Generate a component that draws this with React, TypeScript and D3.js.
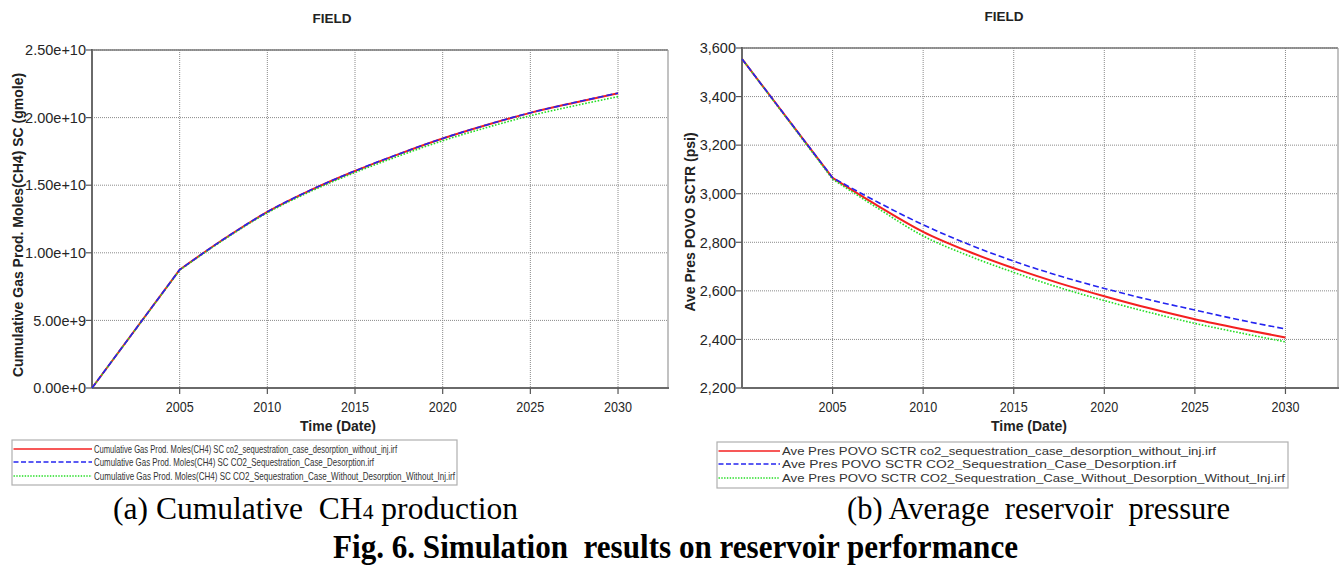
import React from "react";
import * as d3 from "d3";

// Simulation output, sampled every 2.5 years
const years = [2000, 2005, 2007.5, 2010, 2012.5, 2015, 2017.5, 2020, 2022.5, 2025, 2027.5, 2030];

// Cumulative CH4 production (gmole)
const gasDesorptionNoInj = [0, 0.875e10, 1.1e10, 1.302e10, 1.465e10, 1.605e10, 1.73e10, 1.845e10, 1.945e10, 2.035e10, 2.11e10, 2.18e10];
const gasDesorption = [0, 0.875e10, 1.1e10, 1.303e10, 1.466e10, 1.606e10, 1.731e10, 1.846e10, 1.946e10, 2.036e10, 2.111e10, 2.181e10];
const gasNoDesorptionNoInj = [0, 0.872e10, 1.095e10, 1.296e10, 1.456e10, 1.594e10, 1.716e10, 1.829e10, 1.926e10, 2.014e10, 2.087e10, 2.155e10];

// Average reservoir pressure (psi)
const presDesorptionNoInj = [3555, 3065, 2950, 2843, 2762, 2693, 2632, 2578, 2528, 2483, 2444, 2408];
const presDesorption = [3555, 3066, 2965, 2872, 2792, 2722, 2662, 2610, 2563, 2521, 2480, 2443];
const presNoDesorptionNoInj = [3555, 3060, 2940, 2826, 2745, 2676, 2614, 2560, 2511, 2466, 2427, 2390];

const xTicks = [2005, 2010, 2015, 2020, 2025, 2030];
const gasTicks = [0, 0.5e10, 1.0e10, 1.5e10, 2.0e10, 2.5e10];
const gasTickLabels = ["0.00e+0", "5.00e+9", "1.00e+10", "1.50e+10", "2.00e+10", "2.50e+10"];
const presTicks = [2200, 2400, 2600, 2800, 3000, 3200, 3400, 3600];

const caseNames = [
  "co2_sequestration_case_desorption_without_inj.irf",
  "CO2_Sequestration_Case_Desorption.irf",
  "CO2_Sequestration_Case_Without_Desorption_Without_Inj.irf",
];

const SANS = "'Liberation Sans', Arial, Helvetica, sans-serif";
const SERIF = "'Liberation Serif', 'Times New Roman', Times, serif";

const seriesStyle = [
  { color: "#f42020", width: 2, dash: "none" },
  { color: "#2424f0", width: 1.6, dash: "6,3" },
  { color: "#22dd22", width: 1.6, dash: "1.6,1.6" },
];

type PanelProps = {
  x0: number;
  x1: number;
  y0: number;
  y1: number;
  xMax: number;
  yDomain: [number, number];
  yTicks: number[];
  yFormat: (v: number, i: number) => string;
  series: number[][];
  titleX: number;
  titleY: number;
  yLabel: string;
  yLabelX: number;
  yLabelY: number;
  xLabelX: number;
  legend: { x: number; y: number; w: number; h: number; lineEnd: number; fontSize: number; rowY: number[]; lens: number[]; prefix: string };
};

function Panel(p: PanelProps) {
  const x = d3.scaleLinear().domain([2000, p.xMax]).range([p.x0, p.x1]);
  const y = d3.scaleLinear().domain(p.yDomain).range([p.y1, p.y0]);
  // straight ramp up to 2005, smooth decline curve afterwards
  const ramp = d3
    .line<number>()
    .x((_, i) => x(years[i]))
    .y((d) => y(d));
  const decline = d3
    .line<number>()
    .x((_, i) => x(years[i + 1]))
    .y((d) => y(d))
    .curve(d3.curveMonotoneX);
  const pathFor = (vals: number[]) => {
    const a = ramp(vals.slice(0, 2)) || "";
    const b = (decline(vals.slice(1)) || "").replace(/^M/, "L");
    return a + b;
  };
  const drawOrder = [0, 2, 1];
  return (
    <g>
      <text x={p.titleX} y={p.titleY} textAnchor="middle" fontFamily={SANS} fontWeight="bold" fontSize={13.5} fill="#222">
        FIELD
      </text>
      {/* grid */}
      {xTicks.map((t) => (
        <line key={"gx" + t} x1={x(t)} x2={x(t)} y1={p.y0} y2={p.y1} stroke="#8a8a8a" strokeWidth={1} strokeDasharray="1,1" />
      ))}
      {p.yTicks.map((t) => (
        <line key={"gy" + t} x1={p.x0} x2={p.x1} y1={y(t)} y2={y(t)} stroke="#8a8a8a" strokeWidth={1} strokeDasharray="1,1" />
      ))}
      {/* frame */}
      <line x1={p.x0} x2={p.x1} y1={p.y0} y2={p.y0} stroke="#777" strokeWidth={1.5} />
      <line x1={p.x1} x2={p.x1} y1={p.y0} y2={p.y1} stroke="#999" strokeWidth={1.2} />
      <line x1={p.x0} x2={p.x1 + 1} y1={p.y1} y2={p.y1} stroke="#6a6a6a" strokeWidth={2} />
      <line x1={p.x0} x2={p.x0} y1={p.y0 - 1} y2={p.y1} stroke="#6a6a6a" strokeWidth={2} />
      {/* ticks */}
      {p.yTicks.map((t, i) => (
        <g key={"ty" + t}>
          <line x1={p.x0 - 6} x2={p.x0} y1={y(t)} y2={y(t)} stroke="#555" strokeWidth={1.2} />
          <text x={p.x0 - 6} y={y(t)} dy="0.36em" textAnchor="end" fontFamily={SANS} fontSize={14.5} fill="#262626">
            {p.yFormat(t, i)}
          </text>
        </g>
      ))}
      {xTicks.map((t) => (
        <g key={"tx" + t}>
          <line x1={x(t)} x2={x(t)} y1={p.y1} y2={p.y1 + 6} stroke="#555" strokeWidth={1.2} />
          <text
            x={x(t) - 14}
            y={p.y1 + 24}
            fontFamily={SANS}
            fontSize={15}
            fill="#262626"
            textLength={28}
            lengthAdjust="spacingAndGlyphs"
          >
            {t}
          </text>
        </g>
      ))}
      {/* series */}
      {drawOrder.map((si) => (
        <path
          key={"s" + si}
          d={pathFor(p.series[si])}
          fill="none"
          stroke={seriesStyle[si].color}
          strokeWidth={seriesStyle[si].width}
          strokeDasharray={seriesStyle[si].dash}
        />
      ))}
      {/* axis titles */}
      <text
        transform={`translate(${p.yLabelX},${p.yLabelY}) rotate(-90)`}
        textAnchor="middle"
        fontFamily={SANS}
        fontWeight="bold"
        fontSize={14}
        fill="#222"
      >
        {p.yLabel}
      </text>
      <text x={p.xLabelX} y={p.y1 + 43} textAnchor="middle" fontFamily={SANS} fontWeight="bold" fontSize={14} fill="#222">
        Time (Date)
      </text>
      {/* legend */}
      <rect x={p.legend.x} y={p.legend.y} width={p.legend.w} height={p.legend.h} fill="#fff" stroke="#b0b0b0" strokeWidth={1.2} />
      {caseNames.map((c, i) => (
        <g key={"lg" + i}>
          <line
            x1={p.legend.x + 1.5}
            x2={p.legend.lineEnd}
            y1={p.legend.rowY[i]}
            y2={p.legend.rowY[i]}
            stroke={seriesStyle[i].color}
            strokeWidth={1.4}
            strokeDasharray={i === 1 ? "5,2.5" : i === 2 ? "1.4,1.4" : "none"}
          />
          <text
            x={p.legend.lineEnd + 2}
            y={p.legend.rowY[i]}
            dy="0.36em"
            fontFamily={SANS}
            fontSize={p.legend.fontSize}
            fill="#333"
            textLength={p.legend.lens[i]}
            lengthAdjust="spacingAndGlyphs"
          >
            {p.legend.prefix + c}
          </text>
        </g>
      ))}
    </g>
  );
}

export default function App() {
  return (
    <svg width={1341} height={566} style={{ position: "absolute", left: 0, top: 0, background: "#fff" }}>
      <rect width={1341} height={566} fill="#fff" />
      <Panel
        x0={92}
        x1={668}
        y0={50}
        y1={388}
        xMax={2032.85}
        yDomain={[0, 2.5e10]}
        yTicks={gasTicks}
        yFormat={(_, i) => gasTickLabels[i]}
        series={[gasDesorptionNoInj, gasDesorption, gasNoDesorptionNoInj]}
        titleX={332}
        titleY={23}
        yLabel="Cumulative Gas Prod. Moles(CH4) SC (gmole)"
        yLabelX={23}
        yLabelY={225}
        xLabelX={338}
        legend={{
          x: 12,
          y: 440,
          w: 445,
          h: 45,
          lineEnd: 92,
          fontSize: 10.5,
          rowY: [449, 462, 476],
          lens: [303, 280, 361],
          prefix: "Cumulative Gas Prod. Moles(CH4) SC ",
        }}
      />
      <Panel
        x0={742}
        x1={1338}
        y0={48}
        y1={388}
        xMax={2032.9}
        yDomain={[2200, 3600]}
        yTicks={presTicks}
        yFormat={(v) => d3.format(",")(v)}
        series={[presDesorptionNoInj, presDesorption, presNoDesorptionNoInj]}
        titleX={1004}
        titleY={21}
        yLabel="Ave Pres POVO SCTR (psi)"
        yLabelX={695}
        yLabelY={222}
        xLabelX={1029}
        legend={{
          x: 717,
          y: 442,
          w: 571,
          h: 46,
          lineEnd: 780,
          fontSize: 11.5,
          rowY: [451, 464, 478],
          lens: [434, 394, 503],
          prefix: "Ave Pres POVO SCTR ",
        }}
      />
      {/* sub-captions */}
      <text
        x={113}
        y={519}
        fontFamily={SERIF}
        fontSize={32}
        fill="#000"
        textLength={405}
        lengthAdjust="spacingAndGlyphs"
        style={{ whiteSpace: "pre" }}
      >
        (a) Cumulative  CH<tspan fontSize={22}>4</tspan> production
      </text>
      <text
        x={847}
        y={519}
        fontFamily={SERIF}
        fontSize={32}
        fill="#000"
        textLength={383}
        lengthAdjust="spacingAndGlyphs"
        style={{ whiteSpace: "pre" }}
      >
        (b) Average  reservoir  pressure
      </text>
      <text
        x={333}
        y={558}
        fontFamily={SERIF}
        fontWeight="bold"
        fontSize={34}
        fill="#000"
        textLength={685}
        lengthAdjust="spacingAndGlyphs"
        style={{ whiteSpace: "pre" }}
      >
        Fig. 6. Simulation  results on reservoir performance
      </text>
    </svg>
  );
}
